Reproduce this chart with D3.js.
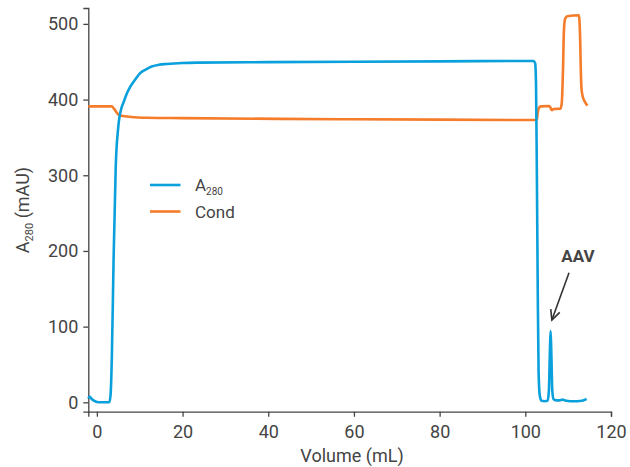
<!DOCTYPE html>
<html lang="en">
<head>
    <meta charset="utf-8">
    <script src="https://d3js.org/d3.v7.min.js"></script>
    <style>
        body { margin: 0; background: #fff; }
        svg text { font-family: Roboto, "Liberation Sans", sans-serif; fill: #444; }
    </style>
</head>
<body>
<svg id="chart" width="630" height="467"></svg>

<script>
    // A280 trace (mAU) vs volume (mL)
    var a280_volume = [-2, -1.7, -1.3, -0.8, 0, 1, 2.9, 3.2, 3.5, 3.9, 4.4, 5.0, 5.8, 6.2, 7, 7.8, 9, 10.1, 11.5, 12.8, 14.5,
        16.3, 20, 23.3, 40, 60, 80, 101.9, 102.3, 102.5, 102.7, 102.9, 103.1, 103.4, 103.8, 104.5, 105.2, 105.5, 105.75,
        105.9, 106.05, 106.3, 106.6, 107.2, 108, 108.7, 109.3, 110.5, 112, 113.5, 114, 114.3];
    var a280_values = [5, 7.5, 5, 2.5, 0.5, 0, 0, 10, 60, 188, 311, 364, 390, 396, 408, 417, 427, 435, 440, 443.6, 446,
        447, 448.3, 448.8, 449.5, 450, 450.5, 451, 448, 420, 300, 150, 40, 8, 2, 1.5, 2, 15, 70,
        94, 70, 15, 4, 2.5, 2.5, 3.5, 2.5, 1.5, 1.5, 2.5, 3.5, 4.5];

    // conductivity trace vs volume (mL)
    var cond_volume = [-2, 3.5, 4.0, 4.6, 5.2, 5.8, 8, 11.7, 20, 42.8, 60, 80, 102.3, 102.7, 102.9, 103.2, 103.6, 105.6,
        105.9, 106.2, 106.6, 108.2, 108.5, 108.8, 109.0, 109.3, 109.8, 112.5, 112.8, 112.95, 113.1, 113.4, 113.8, 114.5];
    var cond_values = [391, 391, 388, 383, 379.5, 378.5, 377, 376, 375.5, 374.5, 374, 373.5, 373, 374, 383, 389, 391, 391.5,
        389, 386, 387.5, 388, 395, 440, 490, 507, 510, 511.5, 480, 440, 415, 404, 398, 392];

    var x_ticks = [0, 20, 40, 60, 80, 100, 120];
    var y_ticks = [0, 100, 200, 300, 400, 500];

    var blue = "#0aa0dc";
    var orange = "#f47c2a";

    var svg = d3.select("#chart");

    var x = d3.scaleLinear().domain([-2, 120]).range([88.3, 611]);
    var y = d3.scaleLinear().domain([-12.4, 521]).range([411.7, 8]);

    // axes
    var xAxis = svg.append("g")
        .attr("transform", "translate(0," + y(-12.4) + ")")
        .call(d3.axisBottom(x).tickValues(x_ticks).tickSizeOuter(0).tickSize(5).tickPadding(9));
    var yAxis = svg.append("g")
        .attr("transform", "translate(" + x(-2) + ",0)")
        .call(d3.axisLeft(y).tickValues(y_ticks).tickSizeOuter(0).tickSize(5).tickPadding(5));

    [xAxis, yAxis].forEach(function(a) {
        a.select(".domain").attr("stroke", "#444").attr("stroke-width", 1.3);
        a.selectAll(".tick line").attr("stroke", "#444").attr("stroke-width", 1.3);
        a.selectAll(".tick text").style("font-size", "18px").attr("fill", "#444");
    });

    // axis titles
    svg.append("text")
        .attr("x", 352).attr("y", 462)
        .attr("text-anchor", "middle")
        .style("font-size", "18px")
        .text("Volume (mL)");

    var ylab = svg.append("text")
        .attr("transform", "translate(29,210) rotate(-90)")
        .attr("text-anchor", "middle")
        .style("font-size", "18px");
    ylab.append("tspan").text("A");
    ylab.append("tspan").attr("dy", 4).style("font-size", "11px").text("280");
    ylab.append("tspan").attr("dy", -4).text(" (mAU)");

    // traces
    var line = d3.line()
        .x(function(d) { return x(d[0]); })
        .y(function(d) { return y(d[1]); })
        .curve(d3.curveMonotoneX);

    var cond_data = d3.zip(cond_volume, cond_values);
    var a280_data = d3.zip(a280_volume, a280_values);

    svg.append("path")
        .datum(cond_data)
        .attr("d", line)
        .attr("fill", "none")
        .attr("stroke", orange)
        .attr("stroke-width", 2.6)
        .attr("stroke-linejoin", "round");

    svg.append("path")
        .datum(a280_data)
        .attr("d", line)
        .attr("fill", "none")
        .attr("stroke", blue)
        .attr("stroke-width", 2.6)
        .attr("stroke-linejoin", "round");

    // legend
    var legend = svg.append("g");
    legend.append("line").attr("x1", 150).attr("x2", 180.5).attr("y1", 185).attr("y2", 185)
        .attr("stroke", blue).attr("stroke-width", 2.6);
    legend.append("line").attr("x1", 150).attr("x2", 180.5).attr("y1", 211.5).attr("y2", 211.5)
        .attr("stroke", orange).attr("stroke-width", 2.6);
    var lt = legend.append("text").attr("x", 195).attr("y", 191).style("font-size", "17px");
    lt.append("tspan").text("A");
    lt.append("tspan").attr("dy", 4).style("font-size", "10px").text("280");
    legend.append("text").attr("x", 195).attr("y", 217.5).style("font-size", "17px").text("Cond");

    // AAV annotation
    var arrow_from = [110.2, 171.2];
    var arrow_to = [106.2, 108.7];
    var x1 = x(arrow_from[0]), y1 = y(arrow_from[1]);
    var x2 = x(arrow_to[0]), y2 = y(arrow_to[1]);
    var ang = Math.atan2(y2 - y1, x2 - x1);
    var head = 11, spread = 0.45;

    svg.append("line")
        .attr("x1", x1).attr("y1", y1).attr("x2", x2).attr("y2", y2)
        .attr("stroke", "#333").attr("stroke-width", 1.6);
    svg.append("path")
        .attr("d", "M" + (x2 - head * Math.cos(ang - spread)) + "," + (y2 - head * Math.sin(ang - spread)) +
            "L" + x2 + "," + y2 +
            "L" + (x2 - head * Math.cos(ang + spread)) + "," + (y2 - head * Math.sin(ang + spread)))
        .attr("fill", "none")
        .attr("stroke", "#333").attr("stroke-width", 1.6);

    svg.append("text")
        .attr("x", x(112.3)).attr("y", 262)
        .attr("text-anchor", "middle")
        .style("font-size", "17px")
        .style("font-weight", "bold")
        .attr("fill", "#333")
        .text("AAV");
</script>
</body>
</html>
